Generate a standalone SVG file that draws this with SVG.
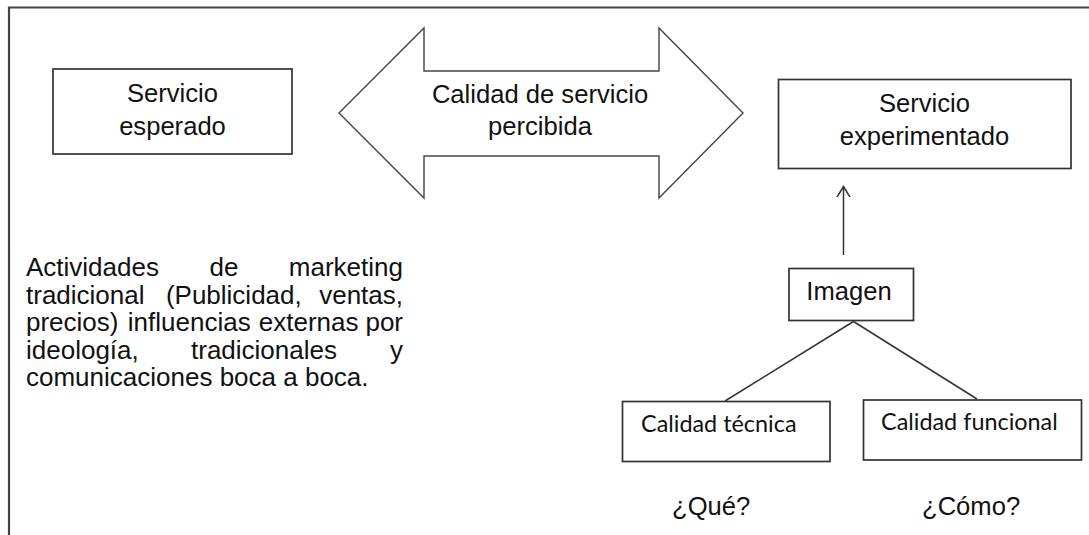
<svg xmlns="http://www.w3.org/2000/svg" width="1089" height="535" viewBox="0 0 1089 535">
<style>
.box{fill:#fff;stroke:#333;stroke-width:1.7}
.t{font-family:"Liberation Sans",Arial,sans-serif;font-size:25.6px;fill:#111}
.p{font-family:"Liberation Sans",Arial,sans-serif;font-size:26px;fill:#111}
.c{font-family:Lato,"Open Sans",sans-serif;font-size:23.4px;fill:#111}
.ln{fill:none;stroke:#333;stroke-width:1.5}
</style>
<defs>
<marker id="open" markerWidth="20" markerHeight="20" viewBox="-10 -10 20 20" refX="0" refY="0" orient="auto" markerUnits="userSpaceOnUse">
<path d="M-13,-8 L0,0 L-13,8" fill="none" stroke="#333" stroke-width="1.5"/>
</marker>
</defs>
<rect width="1089" height="535" fill="#fff"/>
<g id="frame">
<path d="M9,535 L9,7.5 L1089,7.5" fill="none" stroke="#444" stroke-width="2.2"/>
</g>
<g id="servicio-esperado">
<rect class="box" x="53" y="69" width="239" height="85"/>
<text class="t" x="172.5" y="102" text-anchor="middle">Servicio</text>
<text class="t" x="172.5" y="135" text-anchor="middle">esperado</text>
</g>
<g id="calidad-percibida">
<polygon points="339,113 424,28 424,71 659,71 659,28 743,113 659,198 659,156 424,156 424,198" fill="#fff" stroke="#444" stroke-width="1.4"/>
<text class="t" x="540" y="103" text-anchor="middle">Calidad de servicio</text>
<text class="t" x="540" y="135" text-anchor="middle">percibida</text>
</g>
<g id="servicio-experimentado">
<rect class="box" x="778.5" y="79.5" width="292.5" height="89"/>
<text class="t" x="924.5" y="112" text-anchor="middle">Servicio</text>
<text class="t" x="924.5" y="145" text-anchor="middle">experimentado</text>
</g>
<g id="marketing-text">
<text class="p" y="276"><tspan x="26">Actividades</tspan><tspan x="209.6">de</tspan><tspan x="403" text-anchor="end">marketing</tspan></text>
<text class="p" y="303.5"><tspan x="26">tradicional</tspan><tspan x="165.9">(Publicidad,</tspan><tspan x="403" text-anchor="end">ventas,</tspan></text>
<text class="p" y="331"><tspan x="26">precios)</tspan><tspan x="127.8">influencias</tspan><tspan x="258.8">externas</tspan><tspan x="403" text-anchor="end">por</tspan></text>
<text class="p" y="358.5"><tspan x="26">ideología,</tspan><tspan x="191">tradicionales</tspan><tspan x="403" text-anchor="end">y</tspan></text>
<text class="p" x="26" y="386">comunicaciones boca a boca.</text>
</g>
<g id="imagen">
<rect class="box" x="789" y="268.5" width="124.5" height="52"/>
<text class="t" x="849" y="299.5" text-anchor="middle">Imagen</text>
</g>
<g id="calidad-tecnica">
<rect class="box" x="622.5" y="401.5" width="207.5" height="60"/>
<text class="c" x="641" y="432">Calidad técnica</text>
</g>
<g id="calidad-funcional">
<rect class="box" x="863.5" y="400" width="218" height="60"/>
<text class="c" x="881" y="430">Calidad funcional</text>
</g>
<g id="que">
<text class="t" x="672" y="515">¿Qué?</text>
</g>
<g id="como">
<text class="t" x="922" y="515">¿Cómo?</text>
</g>
<g id="connectors">
<line class="ln" x1="843.5" y1="255" x2="843.5" y2="186.5" marker-end="url(#open)"/>
<line class="ln" x1="853.5" y1="321.5" x2="725" y2="401"/>
<line class="ln" x1="853.5" y1="321.5" x2="977" y2="399"/>
</g>
</svg>
